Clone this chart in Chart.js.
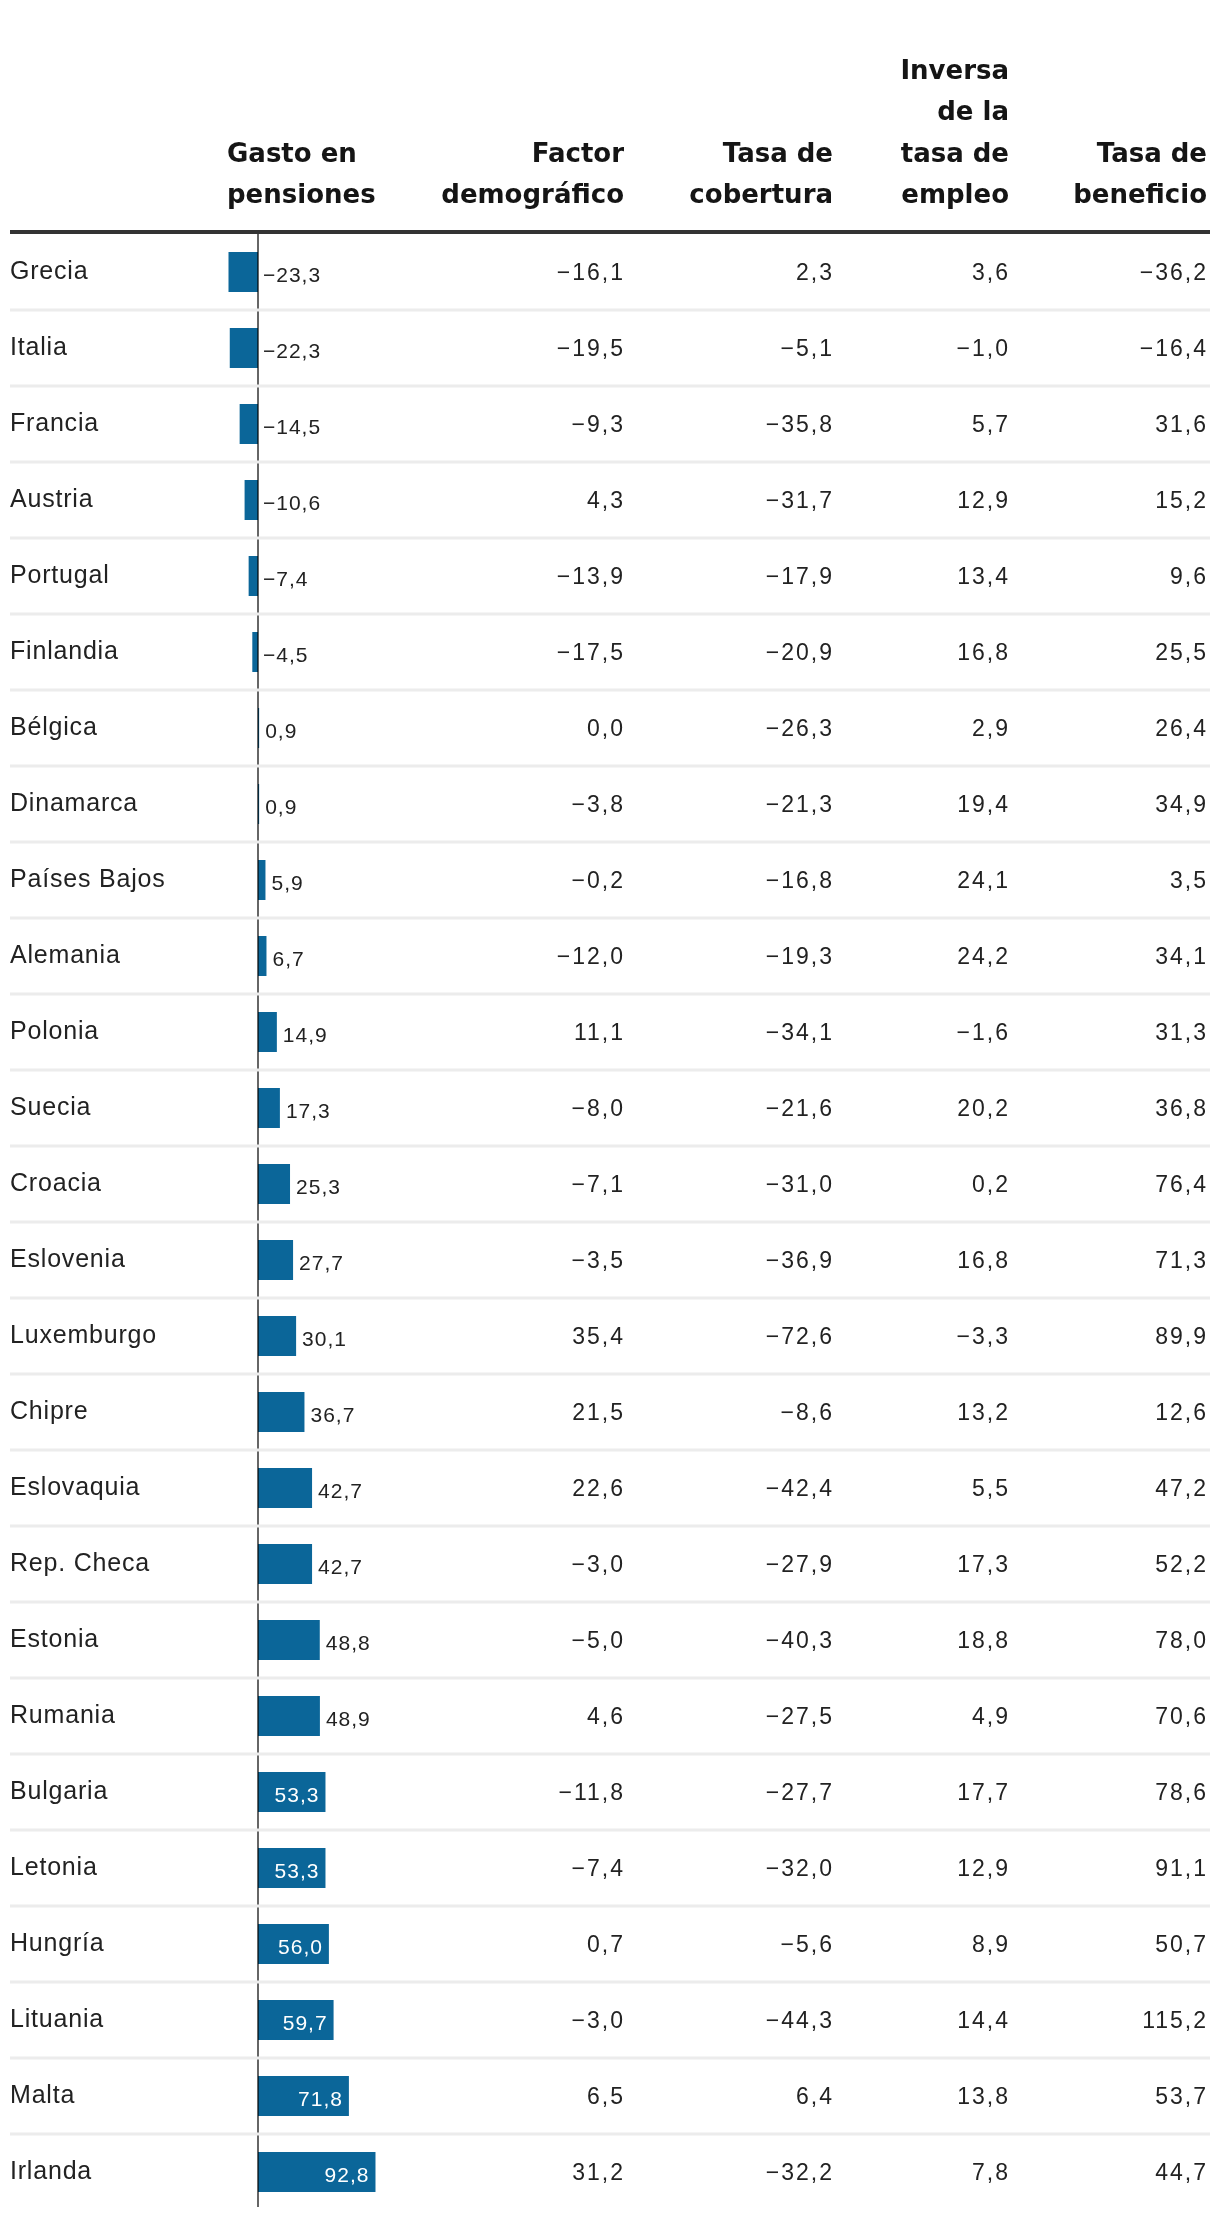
<!DOCTYPE html>
<html>
<head>
<meta charset="utf-8">
<style>
html,body{margin:0;padding:0;background:#fff;}
#wrap{width:1220px;height:2218px;position:relative;}
canvas{display:block;}
</style>
<script src="https://cdn.jsdelivr.net/npm/chart.js@4.4.0/dist/chart.umd.min.js"></script>
</head>
<body>
<div id="wrap"><canvas id="c" width="1220" height="2218"></canvas></div>
<script>
// ---------- DATA ----------
const countries = ["Grecia","Italia","Francia","Austria","Portugal","Finlandia","Bélgica","Dinamarca","Países Bajos","Alemania","Polonia","Suecia","Croacia","Eslovenia","Luxemburgo","Chipre","Eslovaquia","Rep. Checa","Estonia","Rumania","Bulgaria","Letonia","Hungría","Lituania","Malta","Irlanda"];
const gasto       = [-23.3,-22.3,-14.5,-10.6,-7.4,-4.5,0.9,0.9,5.9,6.7,14.9,17.3,25.3,27.7,30.1,36.7,42.7,42.7,48.8,48.9,53.3,53.3,56.0,59.7,71.8,92.8];
const demografico = [-16.1,-19.5,-9.3,4.3,-13.9,-17.5,0.0,-3.8,-0.2,-12.0,11.1,-8.0,-7.1,-3.5,35.4,21.5,22.6,-3.0,-5.0,4.6,-11.8,-7.4,0.7,-3.0,6.5,31.2];
const cobertura   = [2.3,-5.1,-35.8,-31.7,-17.9,-20.9,-26.3,-21.3,-16.8,-19.3,-34.1,-21.6,-31.0,-36.9,-72.6,-8.6,-42.4,-27.9,-40.3,-27.5,-27.7,-32.0,-5.6,-44.3,6.4,-32.2];
const empleo      = [3.6,-1.0,5.7,12.9,13.4,16.8,2.9,19.4,24.1,24.2,-1.6,20.2,0.2,16.8,-3.3,13.2,5.5,17.3,18.8,4.9,17.7,12.9,8.9,14.4,13.8,7.8];
const beneficio   = [-36.2,-16.4,31.6,15.2,9.6,25.5,26.4,34.9,3.5,34.1,31.3,36.8,76.4,71.3,89.9,12.6,47.2,52.2,78.0,70.6,78.6,91.1,50.7,115.2,53.7,44.7];

const headGasto      = ["Gasto en","pensiones"];
const headDemog      = ["Factor","demográfico"];
const headCobertura  = ["Tasa de","cobertura"];
const headEmpleo     = ["Inversa","de la","tasa de","empleo"];
const headBeneficio  = ["Tasa de","beneficio"];

// ---------- STYLE ----------
const BAR_COLOR = '#0b6699';
const TEXT = '#222222';
const HEAD = '#151515';
const BODY_FONT = "'Liberation Sans', Arial, sans-serif";
const HEAD_FONT = "'DejaVu Sans', sans-serif";

const columns = [
  {values: demografico, head: headDemog,     right: 623},
  {values: cobertura,   head: headCobertura, right: 832},
  {values: empleo,      head: headEmpleo,    right: 1008},
  {values: beneficio,   head: headBeneficio, right: 1206}
];

function fmt(v){
  const s = Math.abs(v).toFixed(1).replace('.', ',');
  return (v < 0 ? '\u2212' : '') + s;
}

function drawText(ctx, s, x, yb, font, color, align, ls){
  ctx.font = font;
  ctx.fillStyle = color;
  ctx.textAlign = align;
  ctx.textBaseline = 'alphabetic';
  if ('letterSpacing' in ctx) ctx.letterSpacing = ls + 'px';
  ctx.fillText(s, align === 'right' ? x + ls : x, yb);
  if ('letterSpacing' in ctx) ctx.letterSpacing = '0px';
}

const tablePlugin = {
  id: 'tablePlugin',
  afterDatasetsDraw(chart){
    const ctx = chart.ctx;
    const a = chart.chartArea;
    const xs = chart.scales.x, ys = chart.scales.y;
    const zero = xs.getPixelForValue(0);
    const n = countries.length;
    const half = (ys.getPixelForValue(1) - ys.getPixelForValue(0)) / 2;
    ctx.save();

    // zero line
    ctx.strokeStyle = 'rgba(0,0,0,0.6)';
    ctx.lineWidth = 2;
    ctx.beginPath();
    ctx.moveTo(zero, a.top);
    ctx.lineTo(zero, a.bottom - 3);
    ctx.stroke();

    // row separators
    ctx.fillStyle = '#ececec';
    for (let i = 1; i < n; i++){
      const yy = ys.getPixelForValue(i) - half;
      ctx.fillRect(a.left, yy - 1.5, a.right - a.left, 3);
    }

    // header rule
    ctx.fillStyle = '#333333';
    ctx.fillRect(a.left, a.top - 4, a.right - a.left, 4);

    // headers
    const headFont = "bold 26px " + HEAD_FONT;
    const lastBase = a.top - 31;
    const lh = 41.5;
    headGasto.forEach((t, k) => {
      const yb = lastBase - (headGasto.length - 1 - k) * lh;
      drawText(ctx, t, zero - 31, yb, headFont, HEAD, 'left', 0);
    });
    columns.forEach(col => {
      col.head.forEach((t, k) => {
        const yb = lastBase - (col.head.length - 1 - k) * lh;
        drawText(ctx, t, col.right + 1, yb, headFont, HEAD, 'right', 0);
      });
    });

    // rows
    const meta = chart.getDatasetMeta(0);
    for (let i = 0; i < n; i++){
      const cy = ys.getPixelForValue(i);
      drawText(ctx, countries[i], a.left, cy + 7, "25px " + BODY_FONT, TEXT, 'left', 0.8);

      // bar label
      const v = gasto[i];
      const end = xs.getPixelForValue(v);
      const lf = "21px " + BODY_FONT;
      if (v >= 50){
        drawText(ctx, fmt(v), end - 7, cy + 9.5, lf, '#ffffff', 'right', 1);
      } else if (v < 0){
        drawText(ctx, fmt(v), zero + 5, cy + 9.5, lf, TEXT, 'left', 1);
      } else {
        drawText(ctx, fmt(v), end + 6, cy + 9.5, lf, TEXT, 'left', 1);
      }

      columns.forEach(col => {
        drawText(ctx, fmt(col.values[i]), col.right, cy + 8, "23px " + BODY_FONT, TEXT, 'right', 2);
      });
    }
    ctx.restore();
  }
};

const PX_PER_UNIT = 1.266;
const ZERO_X = 258, LEFT = 10, RIGHT = 1210;

new Chart(document.getElementById('c').getContext('2d'), {
  type: 'bar',
  data: {
    labels: countries,
    datasets: [{
      data: gasto,
      backgroundColor: BAR_COLOR,
      borderWidth: 0,
      barPercentage: 40 / 76,
      categoryPercentage: 1
    }]
  },
  options: {
    indexAxis: 'y',
    responsive: false,
    animation: false,
    devicePixelRatio: 1,
    layout: {padding: {top: 234, bottom: 8, left: LEFT, right: 1220 - RIGHT}},
    plugins: {legend: {display: false}, tooltip: {enabled: false}},
    scales: {
      x: {type: 'linear', display: false,
          min: -(ZERO_X - LEFT) / PX_PER_UNIT,
          max: (RIGHT - ZERO_X) / PX_PER_UNIT},
      y: {type: 'category', display: false, offset: true}
    }
  },
  plugins: [tablePlugin]
});
</script>
</body>
</html>
